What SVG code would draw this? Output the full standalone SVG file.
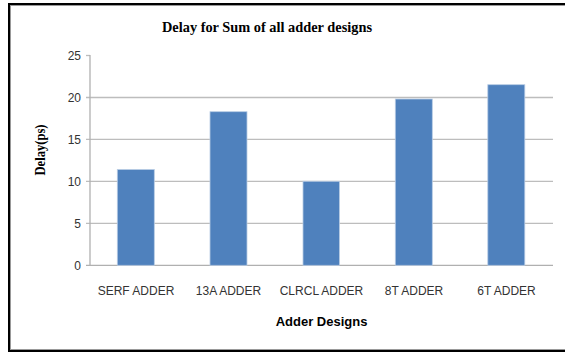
<svg xmlns="http://www.w3.org/2000/svg" width="565" height="353" viewBox="0 0 565 353">
<style>
.grid{stroke:#BDBDBD;stroke-width:1.3;fill:none}
.axis{stroke:#B0B0B0;stroke-width:1.3;fill:none}
.bar{fill:#4F81BD;stroke:#B8CCE4;stroke-width:0.8}
.tick{font-family:"Liberation Sans",Arial,sans-serif;font-size:12px;fill:#333;text-anchor:end}
.cat{font-family:"Liberation Sans",Arial,sans-serif;font-size:12px;fill:#333;text-anchor:middle}
.title{font-family:"Liberation Serif","Times New Roman",serif;font-weight:bold;font-size:14px;fill:#000;text-anchor:middle}
.xt{font-family:"Liberation Sans",Arial,sans-serif;font-weight:bold;font-size:13px;fill:#000;text-anchor:middle}
</style>
<rect x="0" y="0" width="565" height="353" fill="#fff"/>
<g id="frame">
<rect x="9" y="4" width="600" height="347" fill="none" stroke="#000" stroke-width="2"/>
<rect x="10.5" y="5.5" width="600" height="344" fill="none" stroke="#999" stroke-width="1"/>
</g>
<g id="title"><text class="title" x="267" y="32" textLength="210" lengthAdjust="spacingAndGlyphs">Delay for Sum of all adder designs</text></g>
<g id="gridlines">
<line class="grid" x1="86" y1="223.3" x2="553" y2="223.3"/>
<line class="grid" x1="86" y1="181.3" x2="553" y2="181.3"/>
<line class="grid" x1="86" y1="139.3" x2="553" y2="139.3"/>
<line class="grid" x1="86" y1="97.5" x2="553" y2="97.5"/>
<line class="grid" x1="86" y1="55.5" x2="90" y2="55.5"/>
</g>
<g id="axes">
<line class="axis" x1="90" y1="55" x2="90" y2="265.3"/>
<line class="axis" x1="86" y1="265.3" x2="553" y2="265.3"/>
</g>
<g id="yticks">
<text class="tick" x="81" y="59.5">25</text>
<text class="tick" x="81" y="101.5">20</text>
<text class="tick" x="81" y="143.5">15</text>
<text class="tick" x="81" y="185.5">10</text>
<text class="tick" x="81" y="227.5">5</text>
<text class="tick" x="81" y="269.5">0</text>
</g>
<g id="bar-serf"><rect class="bar" x="117.3" y="169.5" width="37" height="95.8"/></g>
<g id="bar-13a"><rect class="bar" x="210" y="111.7" width="37" height="153.6"/></g>
<g id="bar-clrcl"><rect class="bar" x="303" y="181.3" width="36.5" height="84"/></g>
<g id="bar-8t"><rect class="bar" x="395.3" y="99" width="37" height="166.3"/></g>
<g id="bar-6t"><rect class="bar" x="487.8" y="84.7" width="37" height="180.6"/></g>
<g id="xlabels">
<text class="cat" x="136" y="295">SERF ADDER</text>
<text class="cat" x="228.5" y="295">13A ADDER</text>
<text class="cat" x="321.5" y="295">CLRCL ADDER</text>
<text class="cat" x="414" y="295">8T ADDER</text>
<text class="cat" x="506.5" y="295">6T ADDER</text>
</g>
<g id="xtitle"><text class="xt" x="321.5" y="326">Adder Designs</text></g>
<g id="ytitle"><text class="title" transform="translate(45,150) rotate(-90)" x="0" y="0" textLength="51" lengthAdjust="spacingAndGlyphs">Delay(ps)</text></g>
</svg>
